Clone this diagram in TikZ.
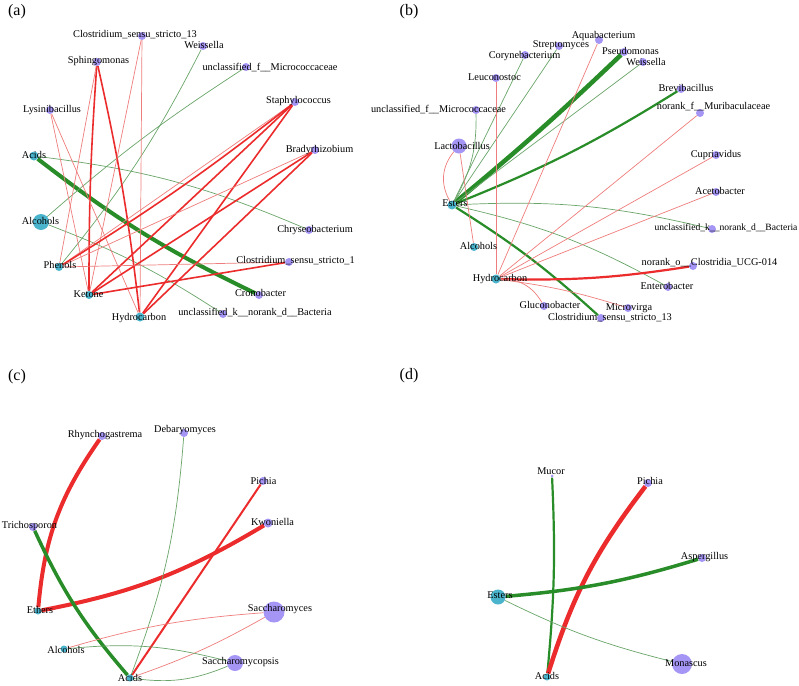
\documentclass[tikz,border=0pt]{standalone}
\usepackage{fontspec}
\setmainfont{Liberation Serif}
\definecolor{nodepurple}{RGB}{165,150,245}
\definecolor{nodecyan}{RGB}{75,180,205}
\definecolor{redE}{RGB}{236,44,44}
\definecolor{redL}{RGB}{240,125,125}
\definecolor{greenE}{RGB}{40,140,40}
\definecolor{greenL}{RGB}{105,165,105}
\pgfdeclarelayer{bglayer}
\pgfdeclarelayer{edgelayer}
\pgfsetlayers{bglayer,edgelayer,main}
\newcommand\dl[7]{\node[#4] (#1) at (#2,#3) {}; \node[lab] (#1L) at (#5,#6) {#7};}
\begin{document}
\begin{tikzpicture}[x=1pt,y=-1pt,
  bdot/.style={circle,fill=nodepurple,draw=none,inner sep=0pt,minimum size=8pt},
  cdot/.style={circle,fill=nodecyan,draw=none,inner sep=0pt,minimum size=8pt},
  lab/.style={font=\fontsize{10.3}{12}\selectfont,text=black,inner sep=0pt,text height=6.8pt,text depth=1.8pt},
  plab/.style={font=\fontsize{16}{18}\selectfont,text=black,inner sep=0pt},
  gthick/.style={draw=greenE,line width=4pt},
  gmid/.style={draw=greenE,line width=2.2pt},
  gthin/.style={draw=greenL,line width=0.7pt},
  rthick/.style={draw=redE,line width=4pt},
  rmid/.style={draw=redE,line width=1.6pt},
  rthin/.style={draw=redL,line width=0.7pt}]
\useasboundingbox (0,0) rectangle (799,685);
\begin{pgfonlayer}{bglayer}
\fill[white] (0,0) rectangle (799,685);
\end{pgfonlayer}

% ---------------- panel (a) ----------------
\node[plab] (pa) at (17,12) {(a)};
\dl{aClo13}{142}{36}{bdot}{135}{35}{Clostridium\_sensu\_stricto\_13}
\dl{aWei}{203}{46}{bdot}{204}{46}{Weissella}
\dl{aSph}{97}{62}{bdot}{98.5}{61}{Sphingomonas}
\dl{aMic}{246}{67}{bdot}{270}{68}{unclassified\_f\_\_Micrococcaceae}
\dl{aLys}{50}{110}{bdot}{52}{110}{Lysinibacillus}
\dl{aSta}{295}{102}{bdot}{298.5}{101}{Staphylococcus}
\dl{aBra}{315}{150}{bdot}{319.5}{150}{Bradyrhizobium}
\dl{aAci}{34}{156}{cdot,minimum size=9pt}{34}{156}{Acids}
\dl{aAlc}{41}{222}{cdot,minimum size=16pt}{40.5}{222}{Alcohols}
\dl{aChr}{309}{230}{bdot}{315}{230}{Chryseobacterium}
\dl{aPhe}{59}{267}{cdot}{60}{266}{Phenols}
\dl{aClo1}{289}{262}{bdot}{295.5}{261}{Clostridium\_sensu\_stricto\_1}
\dl{aKet}{89}{295}{cdot}{88.5}{295}{Ketone}
\dl{aCro}{259}{295}{bdot}{260.5}{294}{Cronobacter}
\dl{aHyd}{140}{317}{cdot,minimum size=9pt}{139}{318}{Hydrocarbon}
\dl{aUnk}{223}{314}{bdot}{255}{313}{unclassified\_k\_\_norank\_d\_\_Bacteria}

% ---------------- panel (b) ----------------
\node[plab] (pb) at (409,12) {(b)};
\dl{bAqu}{599}{40}{bdot}{603.5}{35.5}{Aquabacterium}
\dl{bStr}{559}{46}{bdot}{561}{45}{Streptomyces}
\dl{bPse}{624}{52}{bdot}{630.5}{52}{Pseudomonas}
\dl{bCor}{525}{55}{bdot}{524.5}{56}{Corynebacterium}
\dl{bWei}{643}{62}{bdot}{646}{62.5}{Weissella}
\dl{bLeu}{496}{78}{bdot}{494.5}{78}{Leuconostoc}
\dl{bBre}{681}{89}{bdot}{686}{89}{Brevibacillus}
\dl{bMic}{476}{110}{bdot}{438.5}{110}{unclassified\_f\_\_Micrococcaceae}
\dl{bMur}{700}{113}{bdot}{713.5}{107}{norank\_f\_\_Muribaculaceae}
\dl{bLac}{459}{146}{bdot,minimum size=15pt}{462}{147}{Lactobacillus}
\dl{bCup}{716}{155}{bdot}{716}{155}{Cupriavidus}
\dl{bAce}{716}{192}{bdot}{720}{192}{Acetobacter}
\dl{bEst}{452}{205}{cdot,minimum size=9pt}{455}{204}{Esters}
\node[bdot] (bUnk) at (712,229) {};
\node[lab,font=\fontsize{9.6}{11}\selectfont] (bUnkL) at (726,228) {unclassified\_k\_\_norank\_d\_\_Bacteria};
\dl{bAlc}{474}{247}{cdot}{478.5}{247}{Alcohols}
\dl{bCUCG}{693}{266}{bdot}{709.5}{263}{norank\_o\_\_Clostridia\_UCG-014}
\dl{bHyd}{496}{279}{cdot,minimum size=9pt}{500}{279}{Hydrocarbon}
\dl{bEnt}{668}{287}{bdot}{667}{287}{Enterobacter}
\dl{bGlu}{544}{306}{bdot}{550}{306}{Gluconobacter}
\dl{bMvi}{628}{308}{bdot}{629}{308}{Microvirga}
\dl{bClo13}{601}{318}{bdot}{610}{318}{Clostridium\_sensu\_stricto\_13}

% ---------------- panel (c) ----------------
\node[plab] (pc) at (17,377) {(c)};
\dl{cRhy}{102}{436}{bdot}{105}{435}{Rhynchogastrema}
\dl{cDeb}{184}{433}{bdot}{185}{430}{Debaryomyces}
\dl{cPic}{263}{481}{bdot}{263.5}{482}{Pichia}
\dl{cTri}{33}{527}{bdot}{29.5}{526}{Trichosporon}
\dl{cKwo}{268}{523}{bdot,minimum size=9pt}{272.5}{523}{Kwoniella}
\dl{cEth}{38}{611}{cdot,minimum size=7pt}{40}{611}{Ethers}
\dl{cSac}{274}{612}{bdot,minimum size=21pt}{280}{609}{Saccharomyces}
\dl{cAlc}{64}{649}{cdot,minimum size=7pt}{66}{651}{Alcohols}
\dl{cSacp}{235}{663}{bdot,minimum size=16pt}{240.5}{662}{Saccharomycopsis}
\dl{cAci}{130}{678}{cdot,minimum size=7pt}{130}{679}{Acids}

% ---------------- panel (d) ----------------
\node[plab] (pd) at (409,376) {(d)};
\dl{dMuc}{552}{476}{bdot,minimum size=3pt}{551}{472}{Mucor}
\dl{dPic}{648}{483}{bdot}{650}{482}{Pichia}
\dl{dAsp}{702}{558}{bdot}{704.5}{557}{Aspergillus}
\dl{dEst}{498}{597}{cdot,minimum size=15pt}{500}{596}{Esters}
\dl{dMon}{682}{664}{bdot,minimum size=20pt}{686}{664}{Monascus}
\dl{dAci}{547}{677}{cdot,minimum size=7pt}{547}{677}{Acids}

\begin{pgfonlayer}{edgelayer}
% (a)
\draw[gthick] (aAci) to[bend right=6] (aCro);
\draw[gthin] (aAci) to[bend left=8] (aChr);
\draw[gthin] (aAlc) to[bend left=6] (aUnk);
\draw[gthin] (aAlc) to[bend left=4] (aMic);
\draw[gthin] (aPhe) to[bend right=6] (aWei);
\draw[rmid] (aSph) to[bend right=2] (aKet);
\draw[rmid] (aSph) to[bend left=3] (aHyd);
\draw[rthin] (aSph) to (aPhe);
\draw[rthin] (aClo13) to (aKet);
\draw[rthin] (aClo13) to (aHyd);
\draw[rthin] (aLys) to (aKet);
\draw[rthin] (aLys) to (aHyd);
\draw[rthin] (aSta) to (aPhe);
\draw[rmid] (aSta) to[bend left=3] (aPhe);
\draw[rmid] (aSta) to (aKet);
\draw[rmid] (aSta) to (aHyd);
\draw[rthin] (aBra) to (aPhe);
\draw[rmid] (aBra) to (aKet);
\draw[rmid] (aBra) to (aHyd);
\draw[rthin] (aClo1) to (aPhe);
\draw[rmid] (aClo1) to (aKet);
% (b)
\draw[draw=greenE,line width=4.5pt] (bEst) to[bend right=2] (bPse);
\draw[gmid] (bEst) to[bend right=5] (bBre);
\draw[gmid] (bEst) to[bend left=5] (bClo13);
\draw[gthin] (bEst) to (bWei);
\draw[gthin] (bEst) to (bStr);
\draw[gthin] (bEst) to (bCor);
\draw[gthin] (bEst) to[bend right=15] (bMic);
\draw[gthin] (bEst) to[bend left=8] (bUnk);
\draw[gthin] (bEst) to[bend left=8] (bEnt);
\draw[rthin] (bLac) to[bend right=35] (bEst);
\draw[rthin] (bLac) to (bAlc);
\draw[rthin] (bHyd) to (bLeu);
\draw[rthin] (bHyd) to (bAqu);
\draw[rthin] (bHyd) to (bMur);
\draw[rthin] (bHyd) to (bCup);
\draw[rthin] (bHyd) to (bAce);
\draw[draw=redE,line width=2.2pt] (bHyd) to[bend right=5] (bCUCG);
\draw[rthin] (bHyd) to[bend left=5] (bMvi);
\draw[rthin] (bHyd) to[bend left=30] (bGlu);
% (c)
\draw[rthick] (cRhy) to[bend right=15] (cEth);
\draw[rthick] (cEth) to[bend right=10] (cKwo);
\draw[draw=greenE,line width=3.5pt] (cTri) to[bend right=8] (cAci);
\draw[draw=redE,line width=2pt] (cPic) to (cAci);
\draw[gthin] (cDeb) to[bend left=8] (cAci);
\draw[rthin] (cSac) to[bend right=6] (cAlc);
\draw[rthin] (cSac) to[bend left=5] (cAci);
\draw[gthin] (cAlc) to[bend left=10] (cSacp);
\draw[gthin] (cAci) to[bend right=15] (cSacp);
% (d)
\draw[gmid] (dMuc) to[bend left=4] (dAci);
\draw[draw=redE,line width=4.5pt] (dPic) to[bend right=10] (dAci);
\draw[draw=greenE,line width=3.5pt] (dEst) to[bend right=6] (dAsp);
\draw[gthin] (dEst) to[bend right=6] (dMon);
\end{pgfonlayer}
\end{tikzpicture}
\end{document}
